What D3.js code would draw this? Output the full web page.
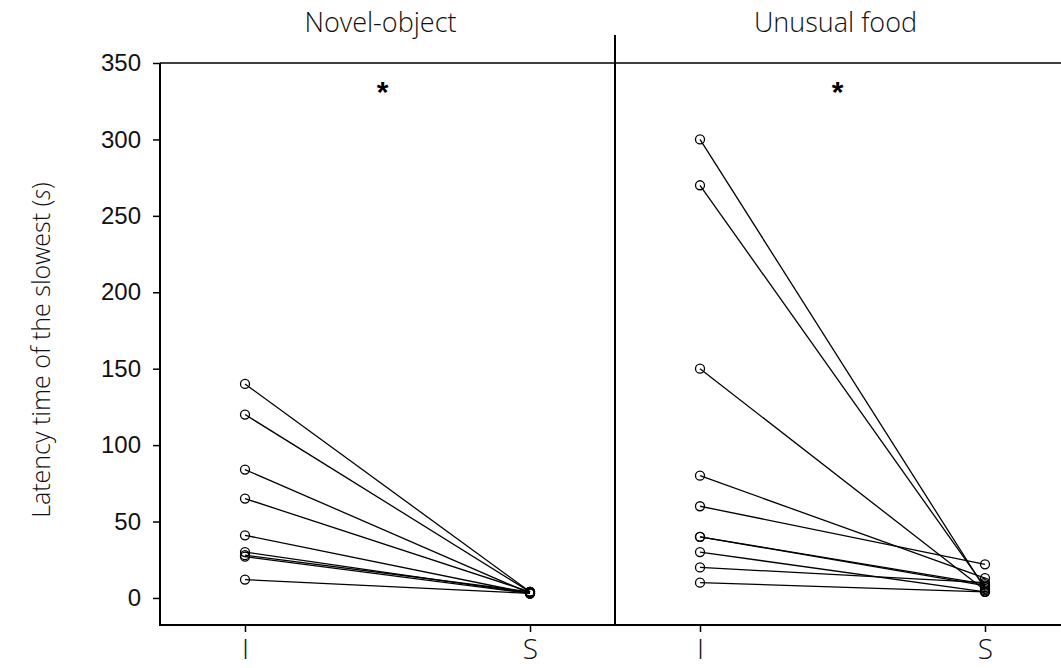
<!DOCTYPE html>
<html>
<head>
<meta charset="utf-8">
<script src="https://cdn.jsdelivr.net/npm/d3@7"></script>
<style>
  body { margin: 0; background: #fff; }
  .tick text { font-family: "Liberation Sans", Arial, sans-serif; }
</style>
</head>
<body>
<div id="chart"></div>
<script>
// data
var panels = ['Novel-object', 'Unusual food'];
var groups = ['I', 'S'];
var novelI = [140, 120, 84, 65, 41, 30, 28, 27, 12];
var novelS = [4, 4, 3, 4, 3, 3, 4, 3, 3];
var foodI = [300, 270, 150, 80, 60, 40, 40, 30, 20, 10];
var foodS = [6, 7, 5, 13, 22, 9, 8, 4, 10, 4];
var yTicks = [0, 50, 100, 150, 200, 250, 300, 350];

var width = 1061, height = 668;
var margin = { top: 63, left: 160, bottom: 43 };
var panelW = 455;

var svg = d3.select('#chart').append('svg')
    .attr('width', width)
    .attr('height', height);

var y = d3.scaleLinear()
    .domain([-17.7, 350])
    .range([height - margin.bottom, margin.top]);

var x = d3.scalePoint()
    .domain(groups)
    .range([85, panelW - 85]);

var series = [
    novelI.map((v, i) => ({ I: v, S: novelS[i] })),
    foodI.map((v, i) => ({ I: v, S: foodS[i] }))
];

// y axis
var yAxis = d3.axisLeft(y)
    .tickValues(yTicks)
    .tickSize(7)
    .tickPadding(12);

var ya = svg.append('g')
    .attr('transform', 'translate(' + margin.left + ',0)')
    .call(yAxis);
ya.select('.domain').remove();
ya.selectAll('.tick line').attr('stroke', '#000').attr('stroke-width', 1.5);
ya.selectAll('.tick text').style('font-size', '24px').attr('fill', '#111');

var bottomY = y(-17.7);

// frame lines
svg.append('line')
    .attr('x1', margin.left).attr('x2', margin.left)
    .attr('y1', margin.top).attr('y2', bottomY + 1)
    .attr('stroke', '#000').attr('stroke-width', 2);
svg.append('line')
    .attr('x1', margin.left).attr('x2', width)
    .attr('y1', margin.top).attr('y2', margin.top)
    .attr('stroke', '#000').attr('stroke-width', 1.5);
svg.append('line')
    .attr('x1', margin.left).attr('x2', width)
    .attr('y1', bottomY).attr('y2', bottomY)
    .attr('stroke', '#000').attr('stroke-width', 2);
svg.append('line')
    .attr('x1', margin.left + panelW).attr('x2', margin.left + panelW)
    .attr('y1', 35).attr('y2', bottomY)
    .attr('stroke', '#000').attr('stroke-width', 2);

panels.forEach(function (name, p) {
    var g = svg.append('g')
        .attr('transform', 'translate(' + (margin.left + p * panelW) + ',0)');

    var xAxis = d3.axisBottom(x)
        .tickSize(7)
        .tickPadding(7);
    var xa = g.append('g')
        .attr('transform', 'translate(0,' + bottomY + ')')
        .call(xAxis);
    xa.select('.domain').remove();
    xa.selectAll('.tick line').attr('stroke', '#000').attr('stroke-width', 1.5);
    xa.selectAll('.tick text')
        .style('font-family', '"Open Sans", "Noto Sans", sans-serif')
        .style('font-size', '28px')
        .style('font-weight', 300)
        .attr('fill', '#111');

    g.append('text')
        .attr('x', (x('I') + x('S')) / 2 - 7)
        .attr('y', 32)
        .attr('text-anchor', 'middle')
        .style('font-family', '"Open Sans", "Noto Sans", sans-serif')
        .style('font-size', '27px')
        .style('font-weight', 300)
        .attr('fill', '#111')
        .text(name);

    g.append('text')
        .attr('x', (x('I') + x('S')) / 2 - 5)
        .attr('y', 102)
        .attr('text-anchor', 'middle')
        .style('font-family', '"Liberation Sans", Arial, sans-serif')
        .style('font-size', '30px')
        .style('font-weight', 'bold')
        .text('*');

    var data = series[p];

    g.selectAll('.pair')
        .data(data)
        .enter()
        .append('line')
        .attr('class', 'pair')
        .attr('x1', x('I')).attr('y1', d => y(d.I))
        .attr('x2', x('S')).attr('y2', d => y(d.S))
        .attr('stroke', '#000')
        .attr('stroke-width', 1.3);

    groups.forEach(function (k) {
        g.selectAll('.pt' + k)
            .data(data)
            .enter()
            .append('circle')
            .attr('class', 'pt' + k)
            .attr('cx', x(k))
            .attr('cy', d => y(d[k]))
            .attr('r', 4.5)
            .attr('fill', 'none')
            .attr('stroke', '#000')
            .attr('stroke-width', 1.3);
    });
});

// y label
var yl = svg.append('text')
    .attr('transform', 'translate(50,350) rotate(-90)')
    .attr('text-anchor', 'middle')
    .style('font-family', '"Open Sans", "Noto Sans", sans-serif')
    .style('font-size', '25px')
    .style('font-weight', 300)
    .attr('fill', '#111');
yl.append('tspan').text('Latency time of the slowest (');
yl.append('tspan').style('font-style', 'italic').text('s');
yl.append('tspan').text(')');
</script>
</body>
</html>
